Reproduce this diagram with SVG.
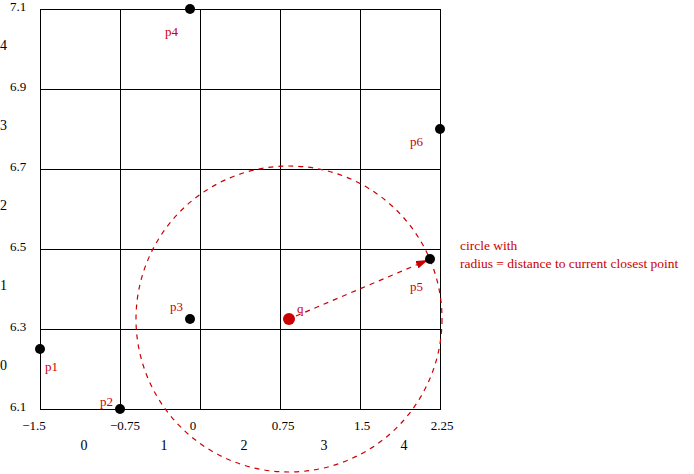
<svg xmlns="http://www.w3.org/2000/svg" width="694" height="474" viewBox="0 0 694 474">
<style>
.grid{stroke:#000;stroke-width:1;fill:none}
.t{font-family:"Liberation Serif","DejaVu Serif",serif;font-size:13px;fill:#000}
.n{font-family:"Liberation Serif","DejaVu Serif",serif;font-size:14px;fill:#000}
.r{font-family:"Liberation Serif","DejaVu Serif",serif;font-size:13px;fill:#cc0000}
.nt{font-family:"Liberation Serif","DejaVu Serif",serif;font-size:13.5px;fill:#cc0000}
.pt{fill:#000}
.dash{stroke:#cc0000;stroke-width:1.2;fill:none;stroke-dasharray:5,5}
</style>
<defs>
<marker id="ah" markerWidth="12" markerHeight="8" refX="12" refY="4" orient="auto" markerUnits="userSpaceOnUse" viewBox="0 0 12 8">
<path d="M0,0 L12,4 L0,8 z" fill="#cc0000"/>
</marker>
</defs>
<rect width="694" height="474" fill="#fff"/>
<g id="grid">
<path class="grid" d="M40.5,9V409.5M120.5,9V409.5M200.5,9V409.5M280.5,9V409.5M360.5,9V409.5M440.5,9V409.5M40,9.5H441M40,89.5H441M40,169.5H441M40,249.5H441M40,329.5H441M40,409.5H441"/>
</g>
<g id="axis-labels">
<text class="t" x="10" y="11">7.1</text>
<text class="t" x="10" y="91">6.9</text>
<text class="t" x="10" y="171">6.7</text>
<text class="t" x="10" y="251">6.5</text>
<text class="t" x="10" y="331">6.3</text>
<text class="t" x="10" y="411">6.1</text>
<text class="n" x="0" y="50">4</text>
<text class="n" x="0" y="130">3</text>
<text class="n" x="0" y="210">2</text>
<text class="n" x="0" y="290">1</text>
<text class="n" x="0" y="370">0</text>
<text class="t" x="34" y="430" text-anchor="middle">−1.5</text>
<text class="t" x="125" y="430" text-anchor="middle">−0.75</text>
<text class="t" x="193" y="430" text-anchor="middle">0</text>
<text class="t" x="283" y="430" text-anchor="middle">0.75</text>
<text class="t" x="362" y="430" text-anchor="middle">1.5</text>
<text class="t" x="442" y="430" text-anchor="middle">2.25</text>
<text class="n" x="84" y="450" text-anchor="middle">0</text>
<text class="n" x="164" y="450" text-anchor="middle">1</text>
<text class="n" x="244" y="450" text-anchor="middle">2</text>
<text class="n" x="324" y="450" text-anchor="middle">3</text>
<text class="n" x="404" y="450" text-anchor="middle">4</text>
</g>
<g id="connectors">
<circle class="dash" cx="289" cy="319" r="153"/>
<line class="dash" x1="296" y1="316" x2="428" y2="260" marker-end="url(#ah)"/>
</g>
<g id="p1"><circle class="pt" cx="40" cy="349" r="5"/><text class="r" x="45" y="371">p1</text></g>
<g id="p2"><circle class="pt" cx="120" cy="409" r="5"/><text class="r" x="100" y="406">p2</text></g>
<g id="p3"><circle class="pt" cx="190" cy="319" r="5"/><text class="r" x="170" y="311">p3</text></g>
<g id="p4"><circle class="pt" cx="190" cy="9" r="5"/><text class="r" x="165" y="36">p4</text></g>
<g id="p5"><circle class="pt" cx="430" cy="259" r="5"/><text class="r" x="410" y="291">p5</text></g>
<g id="p6"><circle class="pt" cx="440" cy="129" r="5"/><text class="r" x="410" y="146">p6</text></g>
<g id="q"><circle fill="#cc0000" cx="289" cy="319" r="6"/><text class="r" x="297" y="313">q</text></g>
<g id="note">
<text class="nt" x="460" y="250">circle with</text>
<text class="nt" x="460" y="268">radius = distance to current closest point</text>
</g>
</svg>
